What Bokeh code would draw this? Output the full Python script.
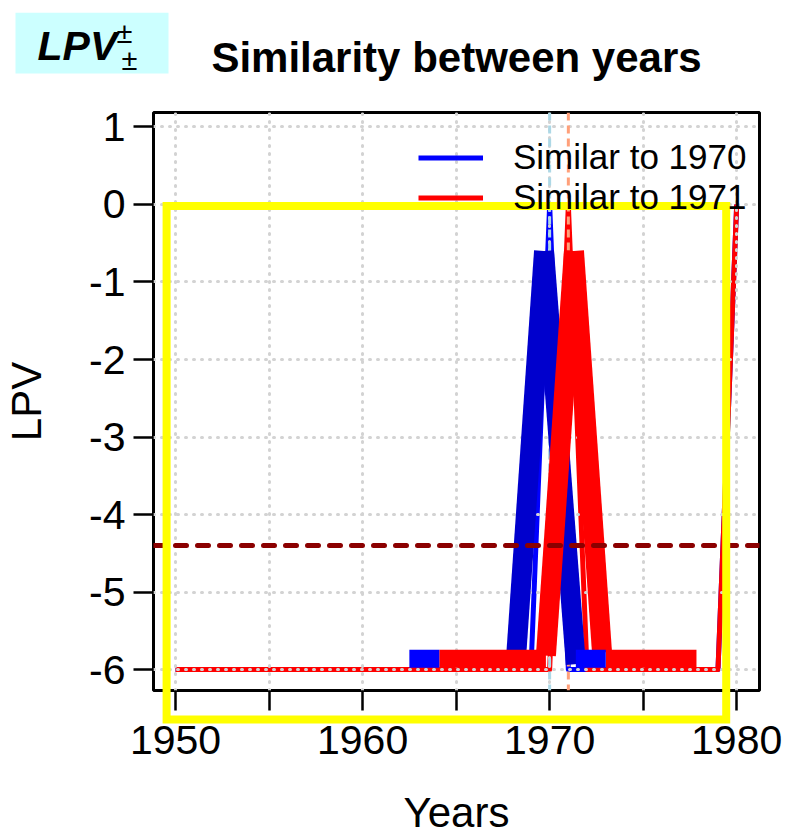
from bokeh.plotting import figure
from bokeh.models import Range1d, FixedTicker, Span, Legend, LegendItem
from bokeh.core.properties import value
from bokeh.embed import file_html
from bokeh.resources import INLINE

# ---------------- data ----------------
years = [1950, 1951, 1952, 1953, 1954, 1955, 1956, 1957, 1958, 1959,
         1960, 1961, 1962, 1963, 1964, 1965, 1966, 1967, 1968, 1969,
         1970, 1971, 1972, 1973, 1974, 1975, 1976, 1977, 1978, 1979, 1980]
similar_1970 = [-6, -6, -6, -6, -6, -6, -6, -6, -6, -6,
                -6, -6, -6, -6, -6, -6, -6, -6, -6, -6,
                0, -6, -6, -6, -6, -6, -6, -6, -6, -6, 0]
similar_1971 = [-6, -6, -6, -6, -6, -6, -6, -6, -6, -6,
                -6, -6, -6, -6, -6, -6, -6, -6, -6, -6,
                -6, 0, -6, -6, -6, -6, -6, -6, -6, -6, 0]

x_ticks = [1950, 1955, 1960, 1965, 1970, 1975, 1980]
x_tick_labels = ["1950", "", "1960", "", "1970", "", "1980"]
y_ticks = [-6, -5, -4, -3, -2, -1, 0, 1]
y_tick_labels = ["-6", "-5", "-4", "-3", "-2", "-1", "0", "1"]

ref_years = [1970, 1971]
threshold = -4.4

# thick peak strokes (start / end points)
peak_1970_x0 = [1968.2, 1969.7]
peak_1970_y0 = [-5.86, -0.6]
peak_1970_x1 = [1969.7, 1971.4]
peak_1970_y1 = [-0.6, -5.93]
peak_1971_x0 = [1969.8, 1971.3]
peak_1971_y0 = [-5.82, -0.6]
peak_1971_x1 = [1971.3, 1972.8]
peak_1971_y1 = [-0.6, -5.78]
# thick base strokes
base_1970_x0 = [1962.5, 1971.4]
base_1970_x1 = [1964.1, 1973.0]
base_1971_x0 = [1964.1, 1973.0]
base_1971_x1 = [1969.8, 1977.85]
base_level = [-5.86, -5.86]

# highlighted region
highlight_years = [1949.52, 1979.44]
highlight_lpv = [-6.644, -0.018]

# ---------------- layout helpers ----------------
FONT = "Liberation Sans"
X_RANGE = (1948.82, 1981.22)
Y_RANGE = (-6.2705, 1.1868)
FRAME_L, FRAME_T, FRAME_W, FRAME_H = 153, 111, 606, 579
FRAME_B = FRAME_T + FRAME_H


def sx(px):
    return X_RANGE[0] + (px - FRAME_L) / FRAME_W * (X_RANGE[1] - X_RANGE[0])


def sy(py):
    return Y_RANGE[0] + (FRAME_B - py) / FRAME_H * (Y_RANGE[1] - Y_RANGE[0])


p = figure(width=786, height=840,
           x_range=Range1d(*X_RANGE), y_range=Range1d(*Y_RANGE),
           output_backend="svg", toolbar_location=None,
           min_border_left=FRAME_L, min_border_right=786 - FRAME_L - FRAME_W,
           min_border_top=FRAME_T, min_border_bottom=840 - FRAME_B,
           title="Similarity between years")

p.background_fill_color = "white"
p.border_fill_color = "white"
p.outline_line_color = "black"
p.outline_line_width = 3

p.title.align = "center"
p.title.text_font = FONT
p.title.text_font_size = "42px"
p.title.text_font_style = "bold"
p.title.text_color = "black"
p.title.standoff = 63

# axes
for ax, ticks, labels, name in ((p.xaxis[0], x_ticks, x_tick_labels, "Years"),
                                (p.yaxis[0], y_ticks, y_tick_labels, "LPV")):
    ax.ticker = FixedTicker(ticks=ticks)
    ax.major_label_overrides = {t: l for t, l in zip(ticks, labels)}
    ax.axis_line_color = None
    ax.major_tick_out = 20
    ax.major_tick_in = 0
    ax.major_tick_line_width = 2.5
    ax.major_tick_line_color = "black"
    ax.minor_tick_line_color = None
    ax.major_label_text_font = FONT
    ax.major_label_text_font_size = "41px"
    ax.major_label_text_color = "black"
    ax.axis_label = name
    ax.axis_label_text_font = FONT
    ax.axis_label_text_font_size = "42px"
    ax.axis_label_text_font_style = "normal"
    ax.axis_label_text_color = "black"
p.xaxis.major_label_standoff = 15
p.xaxis.axis_label_standoff = 32
p.yaxis.major_label_standoff = 8
p.yaxis.axis_label_standoff = 36

for g, ticks in ((p.xgrid[0], x_ticks), (p.ygrid[0], y_ticks)):
    g.ticker = FixedTicker(ticks=ticks)
    g.grid_line_color = "#d3d3d3"
    g.grid_line_width = 3
    g.grid_line_dash = "1 7"
    g.grid_line_cap = "round"

# thin similarity lines (drawn below the grid)
r70 = p.line(years, similar_1970, line_color="#0000ff", line_width=5,
             line_join="round", level="image")
r71 = p.line(years, similar_1971, line_color="#ff0000", line_width=5,
             line_join="round", level="image")

# reference year markers
for yr, col in zip(ref_years, ["#add8e6", "#ffa07a"]):
    p.add_layout(Span(location=yr, dimension="height", line_color=col,
                      line_width=3, line_dash="8 5", level="underlay"))

# thick strokes
p.segment(peak_1970_x0, peak_1970_y0, peak_1970_x1, peak_1970_y1,
          line_color="#0000cd", line_width=20, line_cap="butt")
p.segment(peak_1971_x0, peak_1971_y0, peak_1971_x1, peak_1971_y1,
          line_color="#ff0000", line_width=20, line_cap="butt")
p.segment(base_1971_x0, base_level, base_1971_x1, base_level,
          line_color="#ff0000", line_width=18, line_cap="butt")
p.segment(base_1970_x0, base_level, base_1970_x1, base_level,
          line_color="#0000ff", line_width=18, line_cap="butt")

# threshold line
p.add_layout(Span(location=threshold, dimension="width", line_color="#8b0000",
                  line_width=5, line_dash="11 11", line_cap="round"))

legend = Legend(items=[LegendItem(label="Similar to 1970", renderers=[r70]),
                       LegendItem(label="Similar to 1971", renderers=[r71])],
                location=(265, 473), orientation="vertical",
                background_fill_alpha=0, border_line_color=None,
                padding=0, margin=0, spacing=0,
                glyph_width=65, glyph_height=37, label_height=37,
                label_standoff=30, label_text_font=FONT,
                label_text_font_size="35px", label_text_color="black",
                level="image")
p.add_layout(legend)

# highlight box (overlay level: not clipped to the frame)
p.quad(left=highlight_years[:1], right=highlight_years[1:],
       bottom=highlight_lpv[:1], top=highlight_lpv[1:],
       fill_color=None, line_color="#ffff00", line_width=8,
       line_join="miter", level="overlay")

# corner badge
p.quad(left=[sx(15)], right=[sx(168)], top=[sy(11)], bottom=[sy(72)],
       fill_color="#ccffff", line_color=None, level="overlay")
p.text(x=[sx(37)], y=[sy(44)], text=["LPV"], text_font=value(FONT),
       text_font_style="bold italic", text_font_size="41px",
       text_color="black", text_baseline="alphabetic", level="overlay")
p.text(x=[sx(116)], y=[sy(31)], text=["±"], text_font=value(FONT),
       text_font_size="29px", text_color="black",
       text_baseline="alphabetic", level="overlay")
p.text(x=[sx(121)], y=[sy(58)], text=["±"], text_font=value(FONT),
       text_font_size="29px", text_color="black",
       text_baseline="alphabetic", level="overlay")

open("out.html", "w").write(file_html(p, INLINE))
